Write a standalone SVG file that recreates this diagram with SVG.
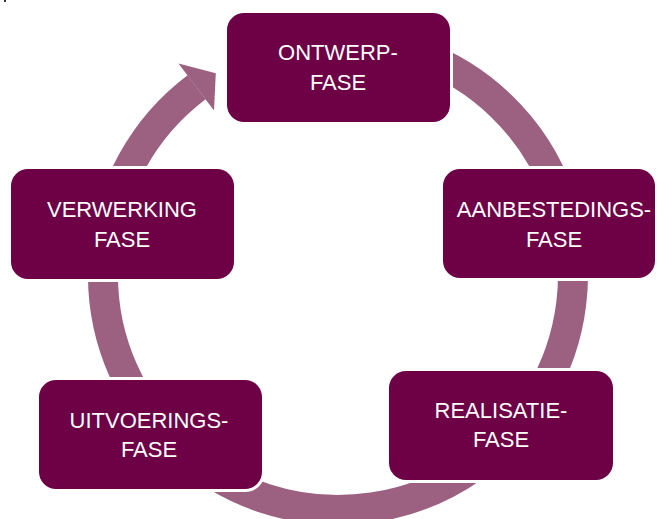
<svg xmlns="http://www.w3.org/2000/svg" width="657" height="519" viewBox="0 0 657 519">
  <style>
    .node rect { fill: #6E0045; stroke: #FFFFFF; stroke-width: 6; paint-order: stroke; }
    .node text { fill: #FFFFFF; font-family: "Liberation Sans", Arial, sans-serif; font-size: 22px; text-anchor: middle; }
    .ring { fill: none; stroke: #9C6080; stroke-width: 30; stroke-linecap: butt; }
    .head { fill: #9C6080; }
  </style>
  <rect x="0" y="0" width="657" height="519" fill="#FFFFFF"/>
  <rect x="4" y="0" width="2" height="2" fill="#333333"/>
  <g id="connectors">
    <path class="ring" d="M 418.4 54.2 A 235 235 0 1 1 196.6 87.3"/>
    <polygon class="head" points="178.5,63.4 215.8,73.2 214,110.5"/>
  </g>
  <g id="ontwerp" class="node">
    <rect x="227" y="13" width="223" height="109" rx="17" ry="17"/>
    <text x="338" y="60">ONTWERP-</text>
    <text x="338" y="90">FASE</text>
  </g>
  <g id="aanbesteding" class="node">
    <rect x="443" y="169" width="212" height="109" rx="17" ry="17"/>
    <text x="554" y="217">AANBESTEDINGS-</text>
    <text x="554" y="247">FASE</text>
  </g>
  <g id="realisatie" class="node">
    <rect x="389" y="371" width="224" height="109" rx="17" ry="17"/>
    <text x="501" y="418">REALISATIE-</text>
    <text x="501" y="447">FASE</text>
  </g>
  <g id="uitvoering" class="node">
    <rect x="39" y="380" width="223" height="109" rx="17" ry="17"/>
    <text x="149" y="428">UITVOERINGS-</text>
    <text x="149" y="457">FASE</text>
  </g>
  <g id="verwerking" class="node">
    <rect x="11" y="169" width="223" height="110" rx="17" ry="17"/>
    <text x="122" y="217">VERWERKING</text>
    <text x="122" y="247">FASE</text>
  </g>
</svg>
